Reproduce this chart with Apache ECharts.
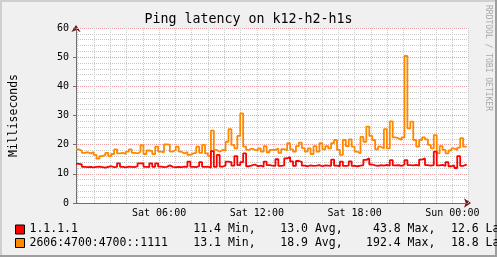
<!DOCTYPE html>
<html>
<head>
<meta charset="utf-8">
<script src="https://cdn.jsdelivr.net/npm/echarts@6/dist/echarts.min.js"></script>
<style>
html, body { margin: 0; padding: 0; background: #f0f0f0; }
#chart { width: 497px; height: 257px; }
</style>
</head>
<body>
<div id="chart"></div>
<script>
// samples in hours since Sat 00:00, one every 0.18 h
const startHour = 0.9;
const stepHour = 0.18;
const endHour = 24.96;

const seriesNames = ['1.1.1.1', '2606:4700:4700::1111'];

const latencyV4 = [
  13.4, 13.2, 12.4, 12.3, 12.4, 12.2, 12.4, 12.5, 12.3, 12.1,
  12.4, 12.6, 12.3, 12.4, 13.6, 12.4, 12.2, 12.5, 12.4, 12.3,
  12.6, 13.6, 13.6, 12.4, 12.3, 13.6, 12.4, 13.6, 12.5, 12.3,
  12.4, 12.9, 12.4, 12.3,
  12.4, 12.3, 12.5, 12.4, 14.2, 12.4, 12.3, 12.6, 14.0, 12.4,
  12.5, 12.1, 17.8, 12.4, 16.5, 12.5, 12.8, 14.2, 14.0, 12.8,
  16.1, 13.0, 14.0, 17.0, 12.6, 12.9, 13.2, 12.6, 12.8, 12.5,
  14.2, 13.0,
  12.8, 12.7, 15.0, 12.7, 12.9, 15.3, 15.7, 14.3, 12.7, 14.4,
  14.1, 12.8, 12.6, 12.9, 12.7, 12.8, 13.0, 12.6, 12.9, 12.8,
  12.7, 14.9, 12.8, 12.6, 14.2, 12.7, 12.8, 14.3, 12.7, 12.6,
  12.8, 13.0, 14.8, 15.3, 13.2, 12.9, 12.7, 13.0, 12.8, 13.1,
  12.8, 14.7, 12.9, 13.0, 12.7, 13.2, 14.7, 13.0, 12.9, 13.1,
  12.8, 14.9, 15.3, 13.0, 12.8, 13.0, 17.6, 12.9, 13.1, 12.7,
  14.0, 12.6, 12.9, 12.0, 16.1, 12.7, 13.2, 12.8
];

const latencyV6 = [
  18.4, 17.9, 17.2, 17.4, 17.0, 17.5, 16.5, 15.2, 16.1, 16.5,
  17.2, 16.1, 16.8, 18.4, 17.0, 17.2, 16.8, 17.6, 18.4, 17.2,
  17.0, 17.6, 19.8, 16.8, 18.0, 17.8, 16.8, 19.3, 17.6, 17.4,
  20.1, 20.0, 17.6, 18.2,
  19.3, 17.6, 17.0, 17.5, 16.5, 17.0, 17.2, 19.3, 17.2, 19.9,
  17.0, 16.1, 24.8, 18.2, 17.6, 18.2, 18.0, 21.0, 25.3, 19.9,
  18.7, 23.0, 30.7, 19.3, 18.2, 18.7, 18.2, 18.0, 18.7, 17.6,
  19.5, 17.4,
  18.2, 18.2, 18.7, 17.2, 18.5, 18.0, 20.5, 18.4, 17.6, 19.5,
  20.7, 18.8, 17.6, 18.7, 16.8, 19.5, 17.6, 20.5, 18.4, 19.5,
  18.7, 20.5, 21.6, 18.2, 16.5, 21.6, 19.5, 21.8, 19.3, 17.6,
  17.0, 22.7, 21.0, 26.2, 23.0,
  21.6, 18.4, 19.3, 18.7, 25.3, 18.7, 28.0, 22.5, 22.2, 21.6,
  22.5, 50.4, 25.6, 27.9, 21.6, 19.3, 21.6, 22.5, 21.8, 19.9,
  18.7, 23.3, 17.0, 19.5, 18.2, 17.0, 18.0, 18.7, 18.2, 19.0,
  22.2, 19.3, 19.0
];

const xTickHours = [6, 12, 18, 24];
const xTickLabels = ['Sat 06:00', 'Sat 12:00', 'Sat 18:00', 'Sun 00:00'];

// min, avg, max, last
const statsV4 = ['11.4', '13.0', '43.8', '12.6'];
const statsV6 = ['13.1', '18.9', '192.4', '18.8'];
const statNames = ['Min,', 'Avg,', 'Max,', 'Last'];

const mono = 'DejaVu Sans Mono';
const gridColor = '#c8c8c8';
const mgridColor = '#eaa0a0';
const axisColor = '#707070';
const arrowColor = '#7a1010';

function pairs(values) {
  return values.map((v, i) => [startHour + i * stepHour, v]);
}

const chart = echarts.init(document.getElementById('chart'), null, { renderer: 'canvas' });

// right edge of each stats column
const statRight = [255.6, 342.6, 435.3, 513.3];
const statTexts = [];
[statsV4, statsV6].forEach((row, r) => {
  row.forEach((val, c) => {
    statTexts.push({
      type: 'text',
      x: statRight[c],
      y: r === 0 ? 229.5 : 243,
      style: {
        text: val + ' ' + statNames[c],
        font: '11.5px "' + mono + '"',
        fill: '#000',
        textAlign: 'right',
        textVerticalAlign: 'middle'
      }
    });
  });
});

const option = {
  backgroundColor: '#f0f0f0',
  animation: false,
  title: {
    text: 'Ping latency on k12-h2-h1s',
    left: 'center',
    top: 13,
    padding: 0,
    textStyle: { fontFamily: mono, fontSize: 13.3, fontWeight: 'normal', color: '#000' }
  },
  legend: {
    orient: 'vertical',
    left: 15,
    top: 223,
    itemWidth: 9,
    itemHeight: 9,
    itemGap: 0.5,
    icon: 'rect',
    padding: 0,
    data: seriesNames,
    itemStyle: { borderColor: '#000', borderWidth: 1 },
    textStyle: { fontFamily: mono, fontSize: 11.5, color: '#000', lineHeight: 13 }
  },
  grid: {
    left: 67, right: 29, top: 28, bottom: 54,
    show: true, backgroundColor: '#fff', borderWidth: 0
  },
  xAxis: [
    {
      type: 'value', min: startHour, max: endHour,
      minInterval: 1, maxInterval: 1,
      z: 1,
      axisLine: { show: true, lineStyle: { color: axisColor, width: 1 } },
      axisTick: { show: false },
      splitLine: { show: true, lineStyle: { color: gridColor, type: 'dotted', width: 1 } },
      axisLabel: {
        margin: 5,
        fontFamily: mono, fontSize: 10, color: '#000',
        formatter: v => {
          const i = xTickHours.indexOf(Math.round(v * 1000) / 1000);
          return i >= 0 ? xTickLabels[i] : '';
        }
      }
    },
    {
      type: 'value', min: startHour, max: endHour,
      minInterval: 3, maxInterval: 3,
      position: 'bottom',
      z: 0,
      axisLine: { show: true, symbol: ['none', 'arrow'], symbolSize: [7, 7], symbolOffset: [0, 3],
        lineStyle: { color: arrowColor, width: 1 } },
      axisTick: { show: false },
      axisLabel: { show: false },
      splitLine: { show: true, lineStyle: { color: mgridColor, type: 'dotted', width: 1 } }
    }
  ],
  yAxis: [
    {
      type: 'value', min: 0, max: 60, interval: 2,
      z: 0,
      axisLine: { show: true, symbol: ['none', 'arrow'], symbolSize: [7, 7], symbolOffset: [0, 3],
        lineStyle: { color: arrowColor, width: 1 } },
      axisTick: { show: false },
      axisLabel: { show: false },
      splitLine: { show: true, lineStyle: { color: gridColor, type: 'dotted', width: 1 } }
    },
    {
      type: 'value', min: 0, max: 60, interval: 10,
      position: 'left',
      z: 1,
      name: 'Milliseconds',
      nameLocation: 'middle',
      nameGap: 56,
      nameTextStyle: { fontFamily: mono, fontSize: 11.5, color: '#000' },
      axisLine: { show: true, lineStyle: { color: axisColor, width: 1 } },
      axisTick: { show: true, length: 3, lineStyle: { color: axisColor } },
      axisLabel: { margin: 7, fontFamily: mono, fontSize: 10, color: '#000' },
      splitLine: { show: true, lineStyle: { color: mgridColor, type: 'dotted', width: 1 } }
    }
  ],
  series: [
    {
      name: seriesNames[0],
      type: 'line',
      step: 'end',
      showSymbol: false,
      z: 4,
      color: '#ff0000',
      lineStyle: { width: 1.8 },
      data: pairs(latencyV4)
    },
    {
      name: seriesNames[1],
      type: 'line',
      step: 'end',
      showSymbol: false,
      z: 3,
      color: '#ff8800',
      lineStyle: { width: 1.8 },
      data: pairs(latencyV6)
    }
  ],
  graphic: [
    // frame shading
    { type: 'rect', shape: { x: 0, y: 0, width: 497, height: 2 }, style: { fill: '#cfcfcf' } },
    { type: 'rect', shape: { x: 0, y: 0, width: 2, height: 257 }, style: { fill: '#cfcfcf' } },
    { type: 'rect', shape: { x: 0, y: 255, width: 497, height: 2 }, style: { fill: '#9e9e9e' } },
    { type: 'rect', shape: { x: 495, y: 0, width: 2, height: 257 }, style: { fill: '#9e9e9e' } },
    {
      type: 'text',
      x: 488.5, y: 58,
      rotation: -Math.PI / 2,
      style: {
        text: 'RRDTOOL / TOBI OETIKER',
        font: '8px "' + mono + '"',
        fill: '#a8a8a8',
        textAlign: 'center',
        textVerticalAlign: 'middle'
      }
    }
  ].concat(statTexts)
};

chart.setOption(option);
</script>
</body>
</html>
